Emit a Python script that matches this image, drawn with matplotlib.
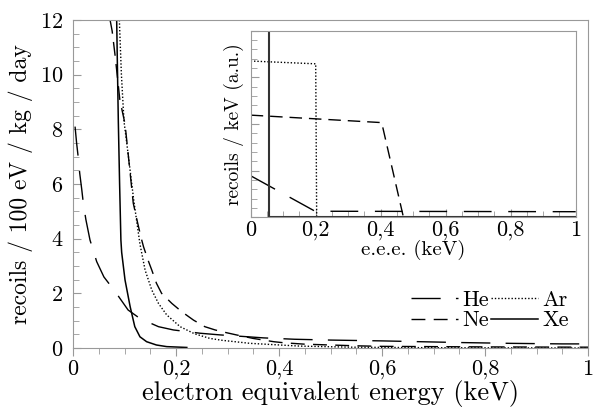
import numpy as np
import matplotlib
matplotlib.use("Agg")
import matplotlib.pyplot as plt
from matplotlib.ticker import MultipleLocator, FixedLocator, FixedFormatter

plt.rcParams['font.family'] = 'cmr10'
plt.rcParams['mathtext.fontset'] = 'cm'
plt.rcParams['axes.unicode_minus'] = False
plt.rcParams['axes.formatter.use_mathtext'] = True

# main panel: rate vs electron equivalent energy (keV)
he_x = [0.004, 0.007, 0.010, 0.013, 0.017, 0.020, 0.025, 0.033, 0.046, 0.060, 0.082,
        0.107, 0.130, 0.166, 0.195, 0.247, 0.285, 0.34, 0.37, 0.43, 0.50, 0.60, 0.65,
        0.75, 0.85, 0.95, 1.0]
he_y = [8.1, 7.5, 7.0, 6.4, 5.8, 5.3, 4.7, 3.95, 3.16, 2.6, 2.06,
        1.39, 1.08, 0.78, 0.66, 0.54, 0.48, 0.41, 0.37, 0.32, 0.29, 0.26, 0.24,
        0.20, 0.17, 0.15, 0.15]

ne_x = [0.072, 0.076, 0.082, 0.091, 0.101, 0.107, 0.117, 0.124, 0.132, 0.137, 0.146,
        0.153, 0.162, 0.172, 0.192, 0.211, 0.234, 0.256, 0.276, 0.298, 0.317, 0.35,
        0.39, 0.41, 0.45, 0.50, 0.55, 0.60, 0.80, 1.0]
ne_y = [12, 11.6, 10.66, 9.07, 8.2, 7.12, 5.3, 4.7, 4.05, 3.7, 3.2,
        2.85, 2.37, 2.0, 1.63, 1.33, 1.02, 0.78, 0.66, 0.56, 0.48, 0.35,
        0.23, 0.19, 0.14, 0.11, 0.08, 0.06, 0.04, 0.03]

ar_x = [0.090, 0.094, 0.099, 0.107, 0.118, 0.130, 0.140, 0.153, 0.166, 0.182, 0.208,
        0.236, 0.266, 0.29, 0.344, 0.44, 0.54, 0.7, 1.0]
ar_y = [12, 10, 8.3, 7.1, 5.4, 3.8, 2.85, 2.12, 1.63, 1.21, 0.78,
        0.52, 0.35, 0.28, 0.17, 0.07, 0.03, 0.01, 0.0]

xe_x = [0.0848, 0.0865, 0.088, 0.0905, 0.093, 0.0945, 0.101, 0.111, 0.120, 0.130,
        0.143, 0.162, 0.182, 0.221]
xe_y = [12, 10, 8.3, 6, 3.95, 3.5, 2.49, 1.51, 0.78, 0.41,
        0.23, 0.11, 0.05, 0.02]

# inset: recoil spectrum (a.u.)
he_in_x = [0, 0.198, 1.0]
he_in_y = [0.89, 0.13, 0.12]
ne_in_x = [0, 0.403, 0.47, 1.0]
ne_in_y = [2.19, 2.03, 0, 0]
ar_in_x = [0, 0.2, 0.203, 1.0]
ar_in_y = [3.35, 3.29, 0, 0]
xe_in_x = [0, 0.057, 0.057, 1.0]
xe_in_y = [30, 30, 0, 0]

xticks = [0, 0.2, 0.4, 0.6, 0.8, 1.0]
xlabels = ['0', '0,2', '0,4', '0,6', '0,8', '1']
yticks = [0, 2, 4, 6, 8, 10, 12]

he_ls = (0, (21, 11))
ne_ls = (0, (10, 6))
ar_ls = (0, (1, 1.4))
grey = '#999999'

fig = plt.figure(figsize=(5.94, 4.07), dpi=100)
ax = fig.add_axes([73/594, 1 - 348/407, 515/594, 328/407])

ax.plot(he_x, he_y, color='k', lw=1.0, ls=he_ls, label='He')
ax.plot(ne_x, ne_y, color='k', lw=1.0, ls=ne_ls, label='Ne')
ax.plot(ar_x, ar_y, color='k', lw=1.0, ls=ar_ls, label='Ar')
ax.plot(xe_x, xe_y, color='k', lw=1.1, ls='-', label='Xe')

ax.set_xlim(0, 1)
ax.set_ylim(0, 12)
ax.xaxis.set_major_locator(FixedLocator(xticks))
ax.xaxis.set_major_formatter(FixedFormatter(xlabels))
ax.xaxis.set_minor_locator(MultipleLocator(0.05))
ax.yaxis.set_major_locator(FixedLocator(yticks))
ax.yaxis.set_minor_locator(MultipleLocator(0.5))
ax.tick_params(axis='x', which='both', direction='out', color=grey, labelsize=16, pad=2)
ax.tick_params(axis='y', which='both', direction='in', color=grey, labelsize=16, pad=7)
ax.tick_params(which='major', length=6)
ax.tick_params(which='minor', length=4)
for s in ax.spines.values():
    s.set_color(grey)
ax.set_xlabel('electron equivalent energy (keV)', fontsize=19, labelpad=1)
ax.set_ylabel('recoils / 100 eV / kg / day', fontsize=17, labelpad=5)

leg = ax.legend(ncol=2, frameon=False, fontsize=16, handlelength=2.1,
                handletextpad=0.2, columnspacing=0.1, labelspacing=0.05,
                borderpad=0, loc='upper left',
                bbox_to_anchor=(400/594, 1 - 279/407), bbox_transform=fig.transFigure)

ins = fig.add_axes([250.7/594, 1 - 217.3/407, 325/594, 186.6/407])
ins.plot(he_in_x, he_in_y, color='k', lw=1.0, ls=(0, (20, 12)))
ins.plot(ne_in_x, ne_in_y, color='k', lw=1.0, ls=(0, (9, 5)))
ins.plot(ar_in_x, ar_in_y, color='k', lw=1.0, ls=ar_ls)
ins.plot(xe_in_x, xe_in_y, color='#333333', lw=1.5, ls='-')
ins.set_xlim(0, 1)
ins.set_ylim(0, 4)
ins.xaxis.set_major_locator(FixedLocator(xticks))
ins.xaxis.set_major_formatter(FixedFormatter(xlabels))
ins.xaxis.set_minor_locator(MultipleLocator(0.05))
ins.yaxis.set_major_locator(MultipleLocator(1))
ins.yaxis.set_minor_locator(MultipleLocator(0.2))
ins.set_yticklabels([])
ins.tick_params(which='both', direction='in', color=grey, labelsize=16, pad=2)
ins.tick_params(which='major', length=6)
ins.tick_params(which='minor', length=4)
for s in ins.spines.values():
    s.set_color(grey)
ins.set_xlabel('e.e.e. (keV)', fontsize=15, labelpad=0)
ins.set_ylabel('recoils / keV (a.u.)', fontsize=14, labelpad=3)

fig.savefig('out.png', dpi=100)
